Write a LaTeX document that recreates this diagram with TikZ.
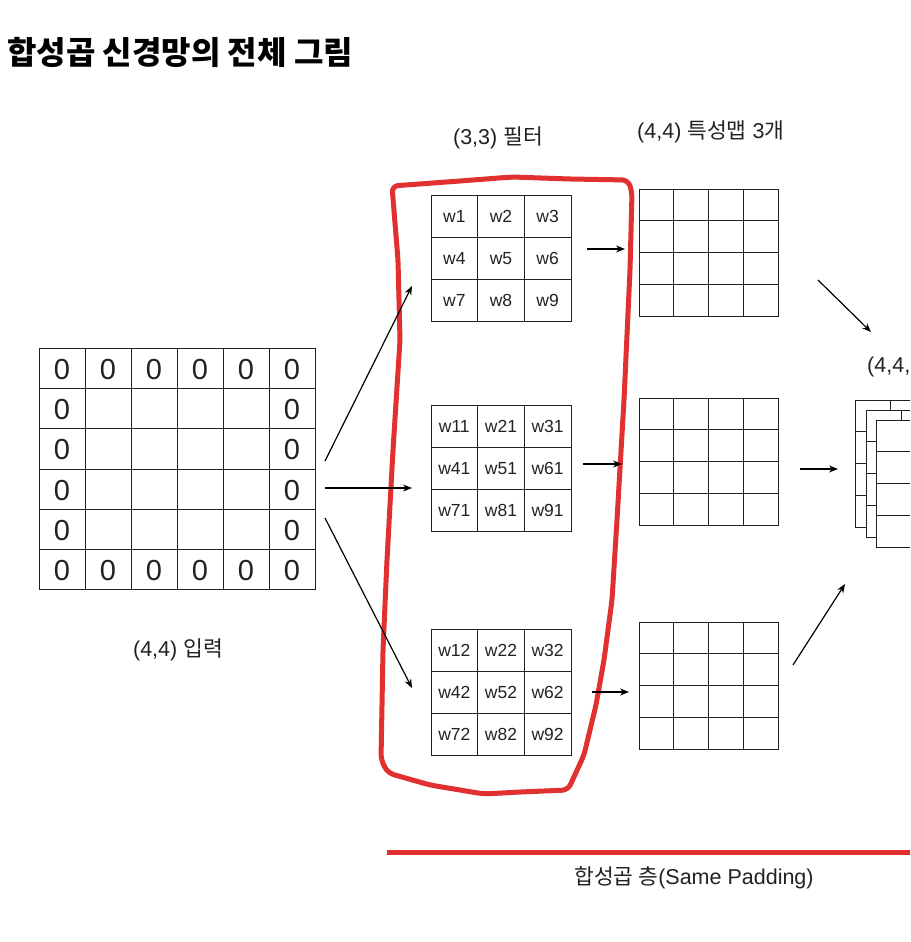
\documentclass[tikz,border=0pt]{standalone}
\usepackage{fontspec}
\setmainfont{Liberation Sans}
\newfontfamily\kr{Noto Sans CJK KR}
\usetikzlibrary{arrows.meta}
\definecolor{redpen}{HTML}{E0302F}
\definecolor{ink}{HTML}{222222}
\tikzset{
  gridline/.style={draw=ink, line width=1pt},
  cellbox/.style={draw=ink, line width=1pt, fill=white},
  conn/.style={draw=black, line width=1.2pt, -{Stealth[length=9pt,width=7pt]}},
  lbl/.style={text=ink, font=\fontsize{21.5}{24}\selectfont, inner sep=0pt},
  wtxt/.style={text=ink, font=\fontsize{17.5}{19}\selectfont, inner sep=0pt},
  zero/.style={text=ink, font=\fontsize{29}{31}\selectfont, inner sep=0pt},
  redline/.style={draw=redpen, line width=5pt, line join=round, line cap=round},
}
% grid: name, x0, y0, cols, rows, cw, ch
\newcommand{\mygrid}[7]{%
  \path[cellbox] (#2,#3) rectangle ({#2+#4*#6},{#3+#5*#7});
  \node[inner sep=0pt, minimum width=#4*#6 pt, minimum height=#5*#7 pt, anchor=north west] (#1) at (#2,#3) {};
  \foreach \i in {1,...,#4} {\ifnum\i<#4 \draw[gridline] ({#2+\i*#6},#3) -- ({#2+\i*#6},{#3+#5*#7});\fi}
  \foreach \j in {1,...,#5} {\ifnum\j<#5 \draw[gridline] (#2,{#3+\j*#7}) -- ({#2+#4*#6},{#3+\j*#7});\fi}
}
\begin{document}
\begin{tikzpicture}[x=1pt,y=-1pt]
\clip (0,0) rectangle (910,942);
\fill[white] (0,0) rectangle (910,942);

% title
\node[anchor=west, inner sep=0pt, font=\kr\bfseries\fontsize{32}{34}\selectfont] (title) at (7,52) {합성곱 신경망의 전체 그림};

% input grid
\mygrid{inp}{39}{348.5}{6}{6}{46}{40.2}
\foreach \c in {0,...,5} {
  \node[zero] (zt\c) at ({39+23+\c*46},{348.5+21}) {0};
  \node[zero] (zb\c) at ({39+23+\c*46},{348.5+21+5*40.2}) {0};
}
\foreach \r in {1,...,4} {
  \node[zero] (zl\r) at (62,{348.5+21+\r*40.2}) {0};
  \node[zero] (zr\r) at (292,{348.5+21+\r*40.2}) {0};
}
\node[lbl] (inlbl) at (178,650) {(4,4) {\kr 입력}};

% filters
\mygrid{f1}{431}{195}{3}{3}{46.67}{42.33}
\mygrid{f2}{431}{405}{3}{3}{46.67}{42.33}
\mygrid{f3}{431}{629}{3}{3}{46.67}{42.33}
\foreach \t [count=\k from 0] in {w1,w2,w3,w4,w5,w6,w7,w8,w9} {
  \pgfmathtruncatemacro{\cc}{mod(\k,3)}\pgfmathtruncatemacro{\rr}{div(\k,3)}
  \node[wtxt] (fa\k) at ({431+23.3+\cc*46.67},{195+21.2+\rr*42.33}) {\t};
}
\foreach \t [count=\k from 0] in {w11,w21,w31,w41,w51,w61,w71,w81,w91} {
  \pgfmathtruncatemacro{\cc}{mod(\k,3)}\pgfmathtruncatemacro{\rr}{div(\k,3)}
  \node[wtxt] (fb\k) at ({431+23.3+\cc*46.67},{405+21.2+\rr*42.33}) {\t};
}
\foreach \t [count=\k from 0] in {w12,w22,w32,w42,w52,w62,w72,w82,w92} {
  \pgfmathtruncatemacro{\cc}{mod(\k,3)}\pgfmathtruncatemacro{\rr}{div(\k,3)}
  \node[wtxt] (fc\k) at ({431+23.3+\cc*46.67},{629+21.2+\rr*42.33}) {\t};
}
\node[lbl] (flbl) at (498,138) {(3,3) {\kr 필터}};

% feature maps
\mygrid{m1}{639}{189}{4}{4}{34.75}{31.75}
\mygrid{m2}{639}{398}{4}{4}{34.75}{31.75}
\mygrid{m3}{639}{622}{4}{4}{34.75}{31.75}
\node[lbl, anchor=west] (mlbl) at (637,132) {(4,4) {\kr 특성맵} 3{\kr 개}};

% stacked output
\mygrid{s1}{855}{400}{4}{4}{35}{31.75}
\mygrid{s2}{866}{410}{4}{4}{35}{31.75}
\mygrid{s3}{876}{420}{4}{4}{35}{31.75}
\node[lbl, anchor=west] (slbl) at (867,367) {(4,4,3)};

% red outline
\draw[redline, rounded corners=6pt]
  (392,186) -- (460,181) -- (512,177) -- (570,179) -- (628,180) -- (632,192)
  -- (630,270) -- (624,400) -- (617,520) -- (612,600) -- (604,660) -- (596,705)
  -- (584,755) -- (568,790) -- (520,792) -- (484,794) -- (430,785) -- (388,773)
  -- (381,760) -- (383,650) -- (387,560) -- (393,450) -- (400,340) -- (398,260) -- cycle;

% arrows
\coordinate (a1s) at (325,461); \coordinate (a1e) at (412,286);
\coordinate (a2s) at (325,488); \coordinate (a2e) at (412,488);
\coordinate (a3s) at (325,518); \coordinate (a3e) at (412,688);
\draw[conn] (a1s) -- (a1e);
\draw[conn] (a2s) -- (a2e);
\draw[conn] (a3s) -- (a3e);
\coordinate (b1s) at (587,249); \coordinate (b1e) at (625,249);
\coordinate (b2s) at (583,464); \coordinate (b2e) at (622,464);
\coordinate (b3s) at (592,692); \coordinate (b3e) at (629,692);
\draw[conn] (b1s) -- (b1e);
\draw[conn] (b2s) -- (b2e);
\draw[conn] (b3s) -- (b3e);
\coordinate (c1s) at (818,280); \coordinate (c1e) at (871,332);
\coordinate (c2s) at (800,469); \coordinate (c2e) at (838,469);
\coordinate (c3s) at (793,665); \coordinate (c3e) at (845,584);
\draw[conn] (c1s) -- (c1e);
\draw[conn] (c2s) -- (c2e);
\draw[conn] (c3s) -- (c3e);

% bottom red line and label
\coordinate (rl1) at (387,852); \coordinate (rl2) at (915,852);
\draw[draw=redpen, line width=5pt] (rl1) -- (rl2);
\node[lbl] (layerlbl) at (694,878) {{\kr 합성곱 층}(Same Padding)};
\end{tikzpicture}
\end{document}
